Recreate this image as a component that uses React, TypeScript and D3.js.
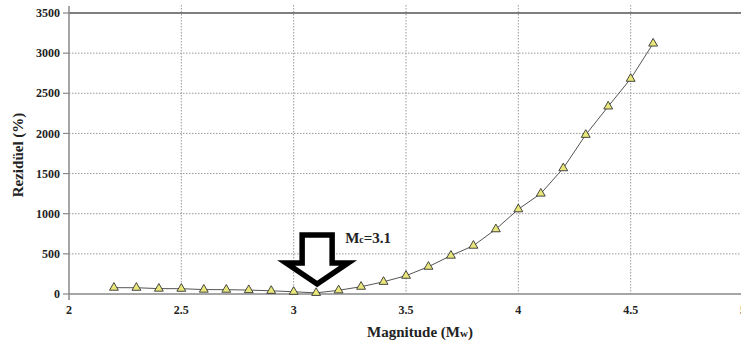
import * as d3 from "d3"

const MAGNITUDES = [2.2, 2.3, 2.4, 2.5, 2.6, 2.7, 2.8, 2.9, 3.0, 3.1, 3.2, 3.3, 3.4, 3.5, 3.6, 3.7, 3.8, 3.9, 4.0, 4.1, 4.2, 4.3, 4.4, 4.5, 4.6]
const RESIDUALS = [79, 78, 67, 66, 55, 54, 49, 40, 28, 14, 46, 91, 152, 228, 340, 478, 602, 807, 1056, 1251, 1567, 1983, 2336, 2681, 3120]
const X_TICKS = [2, 2.5, 3, 3.5, 4, 4.5, 5]
const Y_TICKS = [0, 500, 1000, 1500, 2000, 2500, 3000, 3500]
const MC = 3.1

const W = 741
const H = 347
const txt = { fontFamily: '"Liberation Serif", "Times New Roman", serif', fontWeight: 700 }

export default function App() {
  const x = d3.scaleLinear().domain([2, 5]).range([69, 743])
  const y = d3.scaleLinear().domain([0, 3500]).range([294, 13])

  const line = d3
    .line<number>()
    .x((_, i) => x(MAGNITUDES[i]))
    .y((d) => y(d))

  const tri = d3.symbol().type(d3.symbolTriangle).size(34)()!

  // hollow arrow pointing at Mc
  const ax = x(MC) + 1
  const tipY = 287
  const arrow = [
    [ax - 15, 235],
    [ax + 15, 235],
    [ax + 15, 263],
    [ax + 31, 263],
    [ax, tipY - 3],
    [ax - 31, 263],
    [ax - 15, 263],
  ]

  return (
    <svg width={W} height={H} style={{ position: "absolute", left: 0, top: 0, background: "#fff" }}>
      {/* horizontal grid */}
      {Y_TICKS.filter((t) => t > 0 && t < 3500).map((t) => (
        <line key={"h" + t} x1={x(2)} x2={W} y1={y(t)} y2={y(t)} stroke="#999" strokeWidth={1} strokeDasharray="1.5,1.5" />
      ))}
      {/* vertical grid */}
      {X_TICKS.filter((t) => t > 2 && t < 5).map((t) => (
        <line key={"v" + t} x1={x(t)} x2={x(t)} y1={5} y2={y(0)} stroke="#999" strokeWidth={1} strokeDasharray="1.5,1.5" />
      ))}
      {/* top border */}
      <line x1={x(2)} x2={W} y1={y(3500)} y2={y(3500)} stroke="#555" strokeWidth={1.3} />

      {/* axes */}
      <line x1={x(2)} x2={x(2)} y1={6} y2={y(0) + 6} stroke="#888" strokeWidth={1.5} />
      <line x1={x(2)} x2={W} y1={y(0)} y2={y(0)} stroke="#888" strokeWidth={1.5} />
      {Y_TICKS.map((t) => (
        <g key={"yt" + t}>
          <line x1={x(2) - 6} x2={x(2)} y1={y(t)} y2={y(t)} stroke="#888" strokeWidth={1.2} />
          <text x={x(2) - 9} y={y(t)} dy="0.35em" textAnchor="end" fontSize={12} fill="#222" style={txt}>
            {t}
          </text>
        </g>
      ))}
      {X_TICKS.map((t) => (
        <text key={"xt" + t} x={x(t)} y={y(0) + 20} textAnchor="middle" fontSize={12} fill="#222" style={txt}>
          {t}
        </text>
      ))}

      {/* axis titles */}
      <text x={420} y={337} textAnchor="middle" fontSize={15} fill="#222" style={txt}>
        Magnitude (M<tspan fontSize={11}>w</tspan>)
      </text>
      <text transform="translate(23,155) rotate(-90)" textAnchor="middle" fontSize={15} fill="#222" style={txt}>
        Rezidüel (%)
      </text>

      {/* series */}
      <path d={line(RESIDUALS)!} fill="none" stroke="#555" strokeWidth={1} />
      {RESIDUALS.map((v, i) => (
        <path
          key={"p" + i}
          d={tri}
          transform={`translate(${x(MAGNITUDES[i])},${y(v)})`}
          fill="#e9e77a"
          stroke="#333"
          strokeWidth={0.9}
        />
      ))}

      {/* Mc arrow */}
      <polygon
        points={arrow.map((p) => p.join(",")).join(" ")}
        fill="#fff"
        stroke="#000"
        strokeWidth={5.5}
        strokeLinejoin="miter"
      />
      <text x={ax + 28} y={243} fontSize={15} fill="#222" style={txt}>
        M<tspan fontSize={10}>c</tspan>=3.1
      </text>
    </svg>
  )
}
